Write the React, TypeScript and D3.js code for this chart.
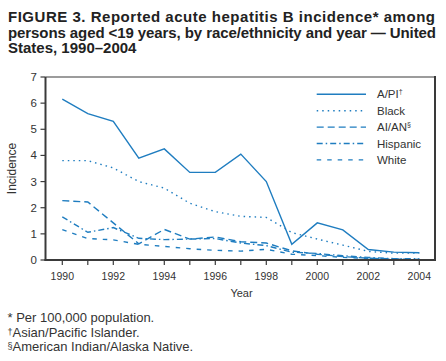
import React from "react";
import * as d3 from "d3";

// years on the x axis
const years = d3.range(1990, 2005);
const yearLabels = [1990, 1992, 1994, 1996, 1998, 2000, 2002, 2004];
const yTicks = [0, 1, 2, 3, 4, 5, 6, 7];

// incidence per 100,000
const apiValues = [6.15, 5.6, 5.3, 3.9, 4.25, 3.35, 3.35, 4.05, 3.0, 0.6, 1.42, 1.15, 0.4, 0.3, 0.28];
const blackValues = [3.8, 3.8, 3.52, 3.0, 2.75, 2.17, 1.85, 1.67, 1.63, 1.05, 0.8, 0.57, 0.33, 0.26, 0.27];
const aianValues = [2.27, 2.22, 1.42, 0.62, 1.17, 0.8, 0.88, 0.7, 0.65, 0.35, 0.22, 0.13, 0.07, 0.04, 0.02];
const hispanicValues = [1.65, 1.06, 1.24, 0.83, 0.78, 0.8, 0.82, 0.65, 0.55, 0.3, 0.25, 0.16, 0.1, 0.05, 0.05];
const whiteValues = [1.16, 0.82, 0.77, 0.6, 0.52, 0.43, 0.37, 0.34, 0.41, 0.22, 0.17, 0.1, 0.06, 0.03, 0.02];

const series = [
  { name: "A/PI", sup: "†", values: apiValues, dash: "none" },
  { name: "Black", sup: "", values: blackValues, dash: "1.5,4" },
  { name: "AI/AN", sup: "§", values: aianValues, dash: "7,4" },
  { name: "Hispanic", sup: "", values: hispanicValues, dash: "6,3,1.5,3" },
  { name: "White", sup: "", values: whiteValues, dash: "4.5,6" },
];

const BLUE = "#1f7dc0";
const INK = "#333";
const FONT = "'Liberation Sans', Arial, Helvetica, sans-serif";

export default function App() {
  const width = 446, height = 361;
  const left = 45.5, right = 435, top = 77, bottom = 260;

  const x = d3.scaleLinear().domain([1990, 2004]).range([62.3, 419.3]);
  const y = d3.scaleLinear().domain([0, 7]).range([bottom, top]);

  const line = d3.line<number>()
    .x((_, i) => x(years[i]))
    .y(d => y(d));

  return (
    <svg width={width} height={height} style={{ position: "absolute", left: 0, top: 0, background: "#fff" }}
      fontFamily={FONT}>
      {/* title */}
      <g fontWeight="bold" fontSize={15} fill="#222">
        <text x={8} y={21.5} textLength={427} lengthAdjust="spacing">FIGURE 3. Reported acute hepatitis B incidence* among</text>
        <text x={8} y={37.5} textLength={428} lengthAdjust="spacing">persons aged &lt;19 years, by race/ethnicity and year — United</text>
        <text x={8} y={53}>States, 1990–2004</text>
      </g>

      {/* series */}
      {series.map(s => (
        <path key={s.name} d={line(s.values) || ""} fill="none" stroke={BLUE}
          strokeWidth={1.4} strokeDasharray={s.dash} />
      ))}

      {/* frame */}
      <g stroke="#3a3a3a" fill="none">
        <line x1={left} x2={left} y1={top} y2={bottom + 1} strokeWidth={2} />
        <line x1={right} x2={right} y1={top - 1} y2={bottom + 1} strokeWidth={2} />
        <line x1={left} x2={right} y1={top} y2={top} strokeWidth={1.2} />
        <line x1={left - 1} x2={right + 1} y1={bottom} y2={bottom} strokeWidth={2} />
      </g>

      {/* y axis */}
      <g fontSize={11.5} fill={INK}>
        {yTicks.map(t => (
          <g key={t}>
            <line x1={left - 5} x2={left} y1={y(t)} y2={y(t)} stroke="#3a3a3a" strokeWidth={1.2} />
            <text x={37} y={y(t)} dy="0.35em" textAnchor="end">{t}</text>
          </g>
        ))}
        <text transform={`translate(16,${(top + bottom) / 2}) rotate(-90)`} textAnchor="middle" fontSize={12}>Incidence</text>
      </g>

      {/* x axis */}
      <g fontSize={10.5} fill={INK}>
        {years.map(yr => (
          <line key={yr} x1={x(yr)} x2={x(yr)} y1={bottom} y2={bottom + 5} stroke="#3a3a3a" strokeWidth={1.2} />
        ))}
        {yearLabels.map(yr => (
          <text key={yr} x={x(yr)} y={280} textAnchor="middle">{yr}</text>
        ))}
        <text x={241.5} y={296.5} textAnchor="middle" fontSize={11}>Year</text>
      </g>

      {/* legend */}
      <g fontSize={11.5} fill={INK}>
        {series.map((s, i) => {
          const ly = 94.3 + i * 16.4;
          return (
            <g key={s.name}>
              <line x1={316.7} x2={366} y1={ly} y2={ly} stroke={BLUE} strokeWidth={1.4} strokeDasharray={s.dash} />
              <text x={377} y={ly} dy="0.35em">
                {s.name}
                {s.sup && <tspan fontSize={7} dy="-0.6em">{s.sup}</tspan>}
              </text>
            </g>
          );
        })}
      </g>

      {/* footnotes */}
      <g fontSize={13} fill={INK}>
        <text x={7.5} y={322.3}>* Per 100,000 population.</text>
        <text x={7.5} y={336.7}><tspan fontSize={9} dy="-2">†</tspan><tspan dy="2">Asian/Pacific Islander.</tspan></text>
        <text x={7.5} y={351}><tspan fontSize={9} dy="-2">§</tspan><tspan dy="2">American Indian/Alaska Native.</tspan></text>
      </g>
    </svg>
  );
}
